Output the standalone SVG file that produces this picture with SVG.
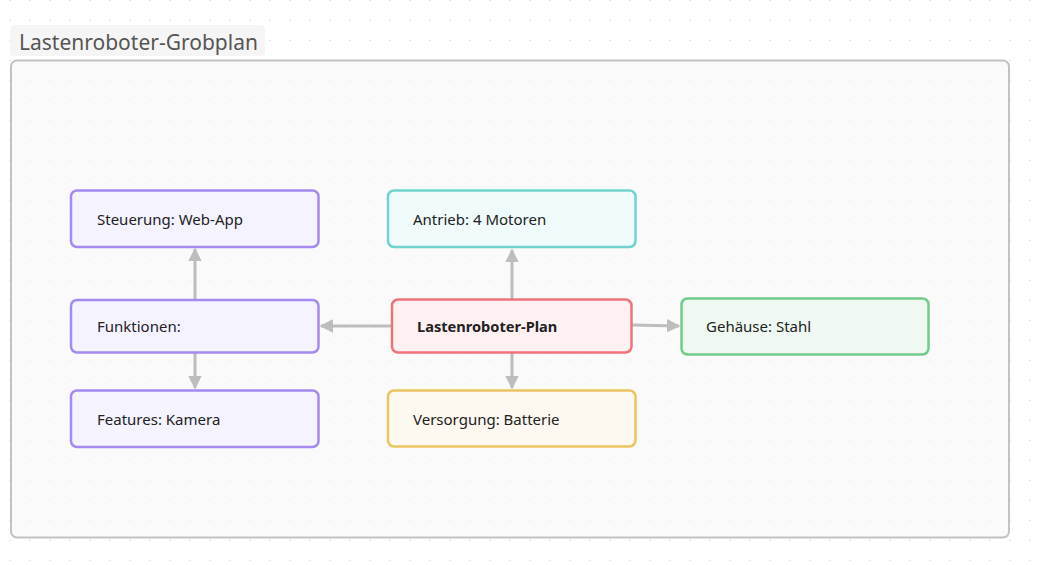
<svg xmlns="http://www.w3.org/2000/svg" width="1038" height="565" viewBox="0 0 1038 565">
<defs>
<pattern id="dots" x="0" y="0" width="20" height="20" patternUnits="userSpaceOnUse">
<circle cx="10" cy="0.5" r="0.7" fill="#d4d4d4"/>
<circle cx="10" cy="20.5" r="0.7" fill="#d4d4d4"/>
</pattern>
<marker id="arr" viewBox="0 0 10 10" refX="9" refY="5" markerWidth="4.5" markerHeight="4.5" orient="auto" markerUnits="strokeWidth">
<path d="M0,0 L10,5 L0,10 z" fill="#bdbdbd"/>
</marker>
<style>
.lbl{font-family:"Noto Sans","Open Sans","Liberation Sans",sans-serif;font-size:15px;fill:#222}
.b{font-weight:bold;font-size:14.6px}
.node rect{stroke-width:2.5}
.c line{stroke:#bdbdbd;stroke-width:3;marker-end:url(#arr)}
.purple rect{fill:#f5f3ff;stroke:#a58bf1}
</style>
</defs>
<rect width="1038" height="565" fill="#ffffff"/>
<rect width="1038" height="565" fill="url(#dots)"/>
<g id="container">
<rect x="10" y="25" width="255" height="31" rx="4" fill="#f5f5f5"/>
<text x="19" y="49.5" font-family="Noto Sans,Open Sans,Liberation Sans,sans-serif" font-size="21" fill="#555">Lastenroboter-Grobplan</text>
<rect x="11" y="60.5" width="998" height="477" rx="6" fill="#f7f7f7" fill-opacity="0.6" stroke="#c2c2c2" stroke-width="2"/>
</g>
<g class="c" id="connectors">
<line x1="195" y1="300" x2="195" y2="249"/>
<line x1="195" y1="353" x2="195" y2="388"/>
<line x1="392" y1="326" x2="321" y2="326"/>
<line x1="512" y1="299" x2="512" y2="250"/>
<line x1="512" y1="353" x2="512" y2="388"/>
<line x1="632" y1="325" x2="679" y2="326"/>
</g>
<g id="steuerung" class="node purple">
<rect x="71" y="190.5" width="247.5" height="56.5" rx="6"/>
<text class="lbl" x="97" y="225">Steuerung: Web-App</text>
</g>
<g id="funktionen" class="node purple">
<rect x="71" y="300" width="247.5" height="52.5" rx="6"/>
<text class="lbl" x="97" y="332">Funktionen:</text>
</g>
<g id="features" class="node purple">
<rect x="71" y="390.5" width="247.5" height="56.5" rx="6"/>
<text class="lbl" x="97" y="425">Features: Kamera</text>
</g>
<g id="antrieb" class="node">
<rect x="388" y="190.5" width="247.5" height="56.5" rx="6" fill="#f0fbfb" stroke="#70d3cf"/>
<text class="lbl" x="413" y="225">Antrieb: 4 Motoren</text>
</g>
<g id="plan" class="node">
<rect x="392" y="299.5" width="239.5" height="53" rx="6" fill="#fff0f1" stroke="#f0737c"/>
<text class="lbl b" x="417" y="332">Lastenroboter-Plan</text>
</g>
<g id="gehaeuse" class="node">
<rect x="681.5" y="298.5" width="247" height="56" rx="6" fill="#eff9f1" stroke="#72cb88"/>
<text class="lbl" x="706" y="332">Gehäuse: Stahl</text>
</g>
<g id="versorgung" class="node">
<rect x="388" y="390.5" width="247.5" height="56" rx="6" fill="#fdf8f0" stroke="#ecc463"/>
<text class="lbl" x="413" y="425">Versorgung: Batterie</text>
</g>
</svg>
